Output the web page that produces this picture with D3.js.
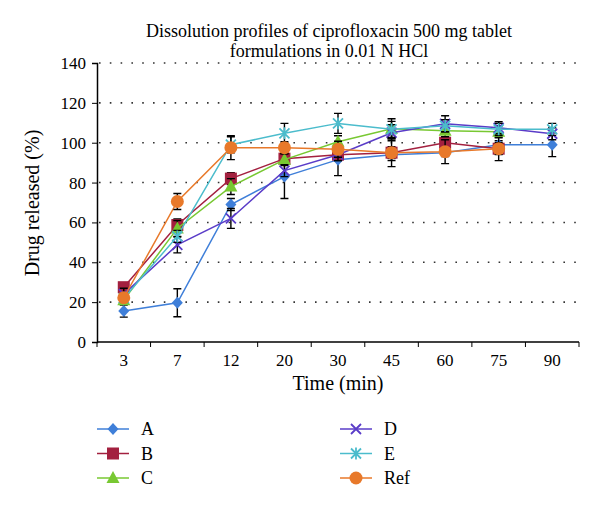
<!DOCTYPE html>
<html><head><meta charset="utf-8">
<script src="https://cdn.jsdelivr.net/npm/d3@7"></script>
<style>body{margin:0;background:#fff}svg{display:block}</style>
</head><body>
<script>
const times = ["3","7","12","20","30","45","60","75","90"];
const yTicks = [0,20,40,60,80,100,120,140];
const seriesNames = ["A","B","C","D","E","Ref"];
const valuesA = [15.5,19.7,69,83,91.5,94,95,99,99];
const valuesB = [27.5,58.7,82,92,94,95,100,97];
const valuesC = [21,57,78,91.5,100.5,107,106,105.5];
const valuesD = [24,48.7,62,86,94,105,109.5,107.5,104.5];
const valuesE = [22,53,99,104.7,109.7,106.7,108.5,106.7,106.7];
const valuesRef = [22.2,70.5,97.5,97.5,96.7,95,95.5,97];
const errA = [3,7,3,11,8,3,2,2,6];
const errB = [2,3,3,3,3,3,3,6];
const errC = [2,4,4,3,3,5,3,3];
const errD = [3,4,5,3,3,4,4,3,3];
const errE = [2,3,4,5,5,4,3,3,3];
const errRef = [2,4,6,3,4,7,6,3];
const colors = ["#3f7fd9","#a3203f","#78c832","#5a3cc8","#4bbccc","#e8792a"];
const markers = ["diamond","square","triangle","x","asterisk","circle"];

const W=600,H=511;
const svg=d3.select("body").append("svg").attr("width",W).attr("height",H);
const font="'Liberation Serif','Times New Roman',serif";
const x=d3.scaleBand().domain(times).range([97,579]);
const y=d3.scaleLinear().domain([0,140]).range([342,63]);

// title
svg.append("text").attr("x",329).attr("y",37).attr("text-anchor","middle").attr("font-family",font).attr("font-size",18).text("Dissolution profiles of ciprofloxacin 500 mg tablet");
svg.append("text").attr("x",329).attr("y",57).attr("text-anchor","middle").attr("font-family",font).attr("font-size",18).text("formulations in 0.01 N HCl");

// grid
svg.append("g").selectAll("line").data(yTicks.filter(d=>d>0)).join("line")
 .attr("x1",99).attr("x2",579).attr("y1",d=>y(d)).attr("y2",d=>y(d))
 .attr("stroke","#333").attr("stroke-width",1.6).attr("stroke-dasharray","1.6,9.2");

// axes
const ya=svg.append("g").attr("transform","translate(97,0)").call(d3.axisLeft(y).tickValues(yTicks).tickSize(5).tickPadding(6));
const xa=svg.append("g").attr("transform","translate(0,342)").call(d3.axisBottom(x).tickSize(0).tickPadding(12));
const edges=times.map(t=>x(t)).concat([579]);
xa.selectAll("line.edge").data(edges).join("line").attr("class","edge").attr("x1",d=>d).attr("x2",d=>d).attr("y1",0).attr("y2",5).attr("stroke","#000");
[ya,xa].forEach(g=>{g.selectAll("path").attr("stroke","#000").attr("stroke-width",1.5);g.selectAll("text").attr("font-family",font).attr("font-size",17).attr("fill","#000");g.selectAll(".tick line").attr("stroke","#000");});
xa.select("path.domain").attr("transform","translate(97,0)").attr("d","M0,0H482");

svg.append("text").attr("x",338).attr("y",390).attr("text-anchor","middle").attr("font-family",font).attr("font-size",20).text("Time (min)");
svg.append("text").attr("transform","translate(39,203) rotate(-90)").attr("text-anchor","middle").attr("font-family",font).attr("font-size",20).text("Drug released (%)");

function drawMarker(g,type,cx,cy,color){
  if(type==="diamond"){
    g.append("path").attr("d",`M${cx},${cy-6}L${cx+5.5},${cy}L${cx},${cy+6}L${cx-5.5},${cy}Z`).attr("fill",color);
  } else if(type==="square"){
    g.append("rect").attr("x",cx-6).attr("y",cy-6).attr("width",12).attr("height",12).attr("fill",color);
  } else if(type==="triangle"){
    g.append("path").attr("d",`M${cx},${cy-7}L${cx+6.5},${cy+5}L${cx-6.5},${cy+5}Z`).attr("fill",color);
  } else if(type==="circle"){
    g.append("circle").attr("cx",cx).attr("cy",cy).attr("r",6.5).attr("fill",color);
  } else if(type==="x"){
    g.append("path").attr("d",`M${cx-5},${cy-5}L${cx+5},${cy+5}M${cx-5},${cy+5}L${cx+5},${cy-5}`).attr("stroke",color).attr("stroke-width",1.8);
  } else if(type==="asterisk"){
    g.append("path").attr("d",`M${cx-5},${cy-5}L${cx+5},${cy+5}M${cx-5},${cy+5}L${cx+5},${cy-5}M${cx},${cy-6}V${cy+6}`).attr("stroke",color).attr("stroke-width",1.8);
  }
}

const allVals=[valuesA,valuesB,valuesC,valuesD,valuesE,valuesRef];
const allErr=[errA,errB,errC,errD,errE,errRef];
const line=d3.line().x((d,i)=>x(times[i])+x.bandwidth()/2).y(d=>y(d));
allVals.forEach((vals,si)=>{
  const g=svg.append("g");
  g.append("path").datum(vals).attr("d",line).attr("fill","none").attr("stroke",colors[si]).attr("stroke-width",1.5);
  vals.forEach((v,i)=>{
    const cx=x(times[i])+x.bandwidth()/2, e=allErr[si][i];
    g.append("path").attr("d",`M${cx},${y(v+e)}V${y(v-e)}M${cx-4},${y(v+e)}H${cx+4}M${cx-4},${y(v-e)}H${cx+4}`).attr("stroke","#000").attr("stroke-width",1.4).attr("fill","none");
  });
  vals.forEach((v,i)=>drawMarker(g,markers[si],x(times[i])+x.bandwidth()/2,y(v),colors[si]));
});

// legend
seriesNames.forEach((n,i)=>{
  const col=i<3?0:1,row=i%3;
  const lx=col?340:97, ly=429+row*24.5;
  const g=svg.append("g");
  g.append("line").attr("x1",lx).attr("x2",lx+32).attr("y1",ly).attr("y2",ly).attr("stroke",colors[i]).attr("stroke-width",1.5);
  drawMarker(g,markers[i],lx+16,ly,colors[i]);
  g.append("text").attr("x",lx+44).attr("y",ly+6).attr("font-family",font).attr("font-size",18).text(n);
});
</script>
</body></html>
